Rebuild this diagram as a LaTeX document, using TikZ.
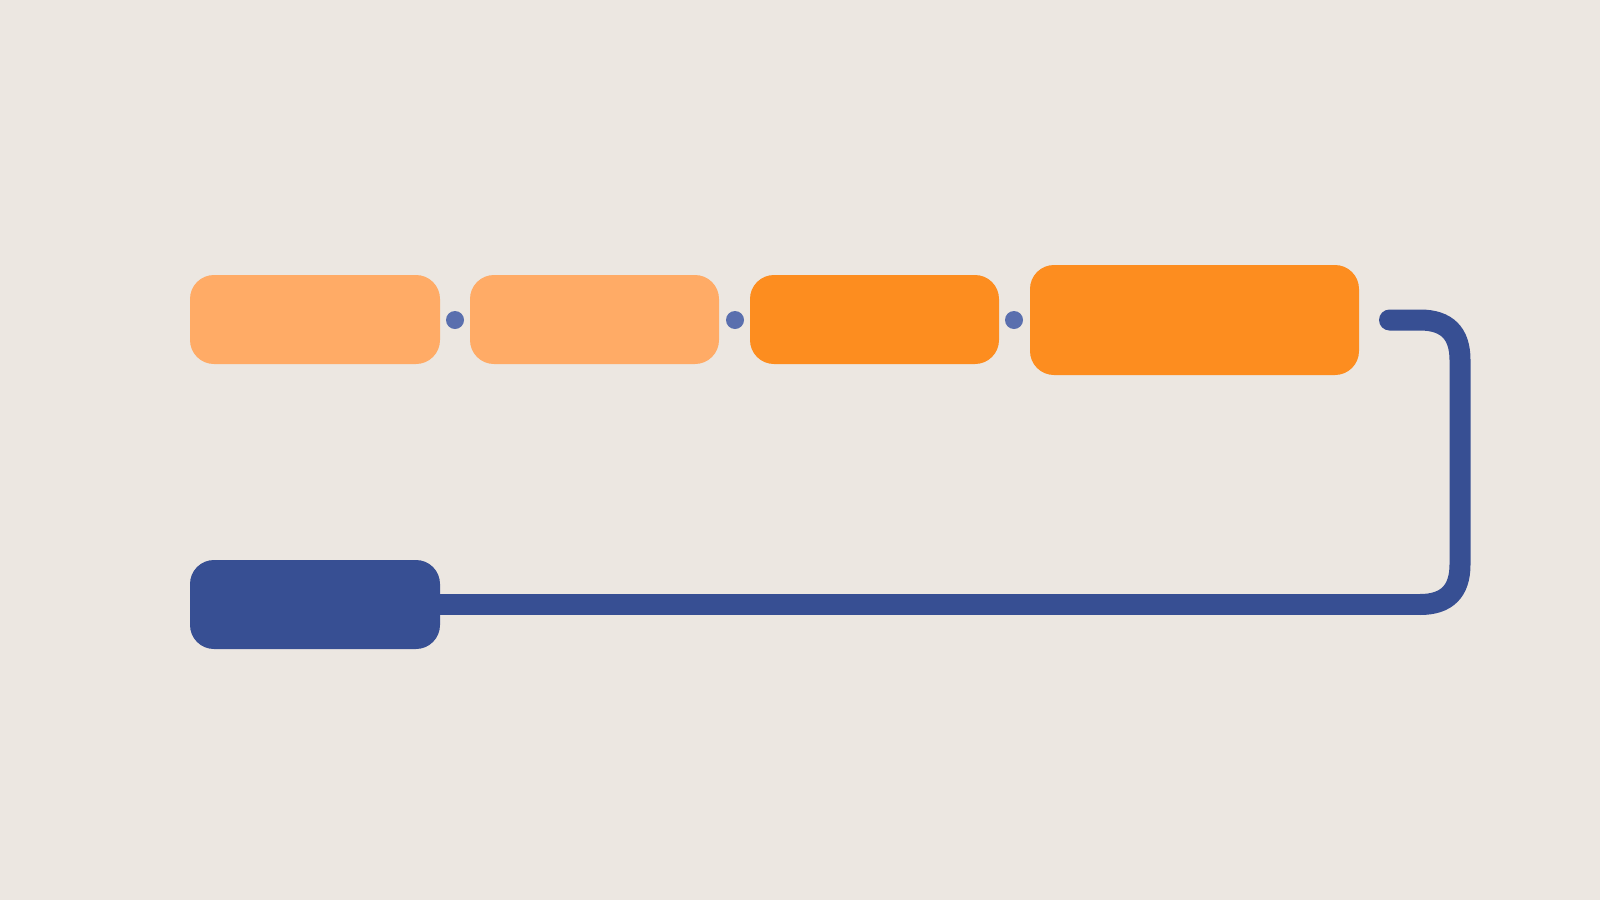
\documentclass[tikz,border=0pt]{standalone}
\usetikzlibrary{positioning}
\definecolor{bgc}{HTML}{ECE7E1}
\definecolor{lightor}{HTML}{FFAB66}
\definecolor{darkor}{HTML}{FD8D1F}
\definecolor{navy}{HTML}{374F93}
\definecolor{dotc}{HTML}{5A6FAE}
\tikzset{
  box/.style={rounded corners=24pt, inner sep=0pt, draw=none},
  ptdot/.style={circle, fill=dotc, minimum size=18pt, inner sep=0pt},
  link/.style={draw=navy, line width=21pt}
}
\begin{document}
\begin{tikzpicture}[x=1pt,y=-1pt]
\fill[bgc] (0,0) rectangle (1600,900);
\useasboundingbox (0,0) rectangle (1600,900);
\node[box, fill=lightor, minimum width=250pt, minimum height=89pt] (b1) at (315,319.5) {};
\node[box, fill=lightor, minimum width=249pt, minimum height=89pt] (b2) at (594.5,319.5) {};
\node[box, fill=darkor, minimum width=249pt, minimum height=89pt] (b3) at (874.5,319.5) {};
\node[box, fill=darkor, minimum width=329pt, minimum height=110pt] (b4) at (1194.5,320) {};
\node[box, fill=navy, minimum width=250pt, minimum height=89pt] (b5) at (315,604.5) {};
\node[ptdot] (d1) at (455,320) {};
\node[ptdot] (d2) at (735,320) {};
\node[ptdot] (d3) at (1014,320) {};
\coordinate (s) at (1389.5,320);
\coordinate (c1a) at (1420,320);
\coordinate (k1a) at (1446.7,320);
\coordinate (k1b) at (1460,333.3);
\coordinate (c1b) at (1460,360);
\coordinate (c2a) at (1460,564.5);
\coordinate (k2a) at (1460,591.2);
\coordinate (k2b) at (1446.7,604.5);
\coordinate (c2b) at (1420,604.5);
\draw[link, line cap=round] (s) -- (c1a) .. controls (k1a) and (k1b) .. (c1b)
  -- (c2a) .. controls (k2a) and (k2b) .. (c2b);
\draw[link] (c2b) -- (b5.east);
\end{tikzpicture}
\end{document}
